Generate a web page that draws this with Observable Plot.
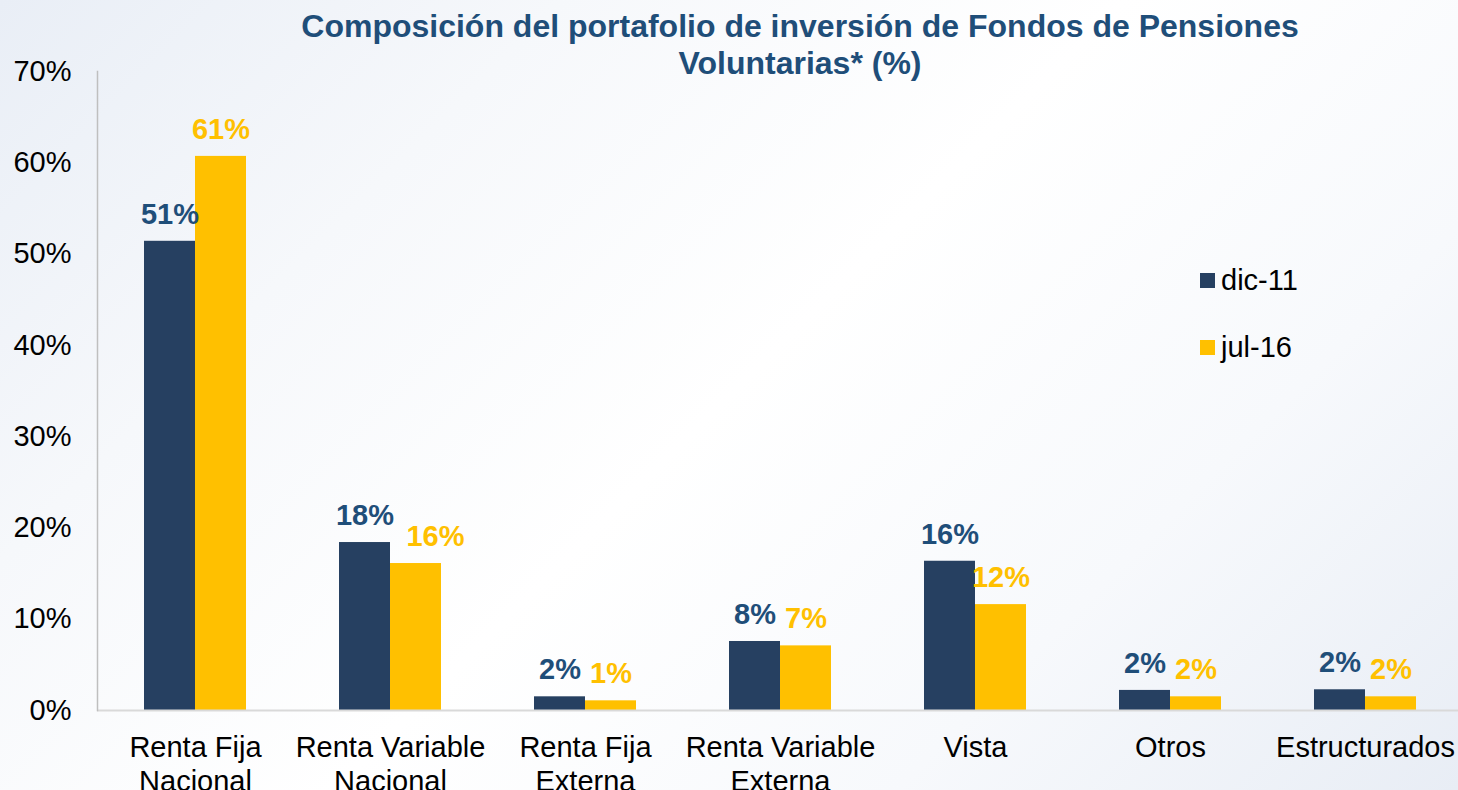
<!DOCTYPE html>
<html>
<head>
<meta charset="utf-8">
<script src="https://cdn.jsdelivr.net/npm/d3@7"></script>
<script src="https://cdn.jsdelivr.net/npm/@observablehq/plot@0.6"></script>
<style>
  html, body { margin: 0; padding: 0; overflow: hidden; }
  body { width: 1458px; height: 790px; font-family: Arial, "Liberation Sans", sans-serif; }
  #wrap { position: relative; width: 1458px; height: 790px;
    background: linear-gradient(135deg, #e9eef6 0%, #f6f8fb 25%, #ffffff 50%, #f7f9fc 75%, #e8edf5 100%); }
  #title { position: absolute; left: 250px; width: 1100px; top: 8px; text-align: center;
    font-weight: bold; font-size: 32px; line-height: 37px; color: #1f4e79; }
  .leg { position: absolute; left: 1200px; font-size: 29px; color: #000; line-height: 29px; }
  .leg span.sw { position: absolute; left: 0; width: 15px; height: 15px; }
  .leg span.tx { position: absolute; left: 21px; white-space: nowrap; }
  #chart svg { display: block; background: transparent; }
</style>
</head>
<body>
<div id="wrap">
  <div id="chart"></div>
  <div id="title">Composición del portafolio de inversión de Fondos de Pensiones<br>Voluntarias* (%)</div>
  <div id="legend"></div>
</div>
<script>
const categories = ["Renta Fija Nacional", "Renta Variable Nacional", "Renta Fija Externa", "Renta Variable Externa", "Vista", "Otros", "Estructurados"];
const tickLabels = ["Renta Fija\nNacional", "Renta Variable\nNacional", "Renta Fija\nExterna", "Renta Variable\nExterna", "Vista", "Otros", "Estructurados"];
const seriesNames = ["dic-11", "jul-16"];
const dic11 = [0.514, 0.184, 0.015, 0.0756, 0.1635, 0.022, 0.0227];
const jul16 = [0.607, 0.161, 0.0106, 0.0708, 0.116, 0.015, 0.015];
const yTicks = [0, 0.1, 0.2, 0.3, 0.4, 0.5, 0.6, 0.7];

const navy = "#264061", gold = "#FFC000", labelNavy = "#1f4e79";
const pct = d3.format(".0%");

const dicData = categories.map((c, i) => ({cat: c, v: dic11[i]}));
const julData = categories.map((c, i) => ({cat: c, v: jul16[i]}));
const labData = categories.map((c, i) => ({cat: c, label: tickLabels[i]}));
// the jul-16 label of "Renta Variable Nacional" is nudged right in the original
const nudged = "Renta Variable Nacional";

const fs = 29;
const plot = Plot.plot({
  width: 1458,
  height: 790,
  marginLeft: 97,
  marginRight: 0,
  marginTop: 71,
  marginBottom: 80,
  style: {fontFamily: 'Arial, "Liberation Sans", sans-serif', background: "transparent", overflow: "visible"},
  x: {domain: categories, range: [97, 1462], paddingInner: 0.477, paddingOuter: 0.2385, axis: null},
  y: {domain: [0, 0.7], axis: null},
  marks: [
    Plot.axisY({ticks: yTicks, tickFormat: pct, tickSize: 0, tickPadding: 26, fontSize: fs, color: "#000", label: null}),
    Plot.barY(dicData, {x: "cat", y: "v", fill: navy, insetRight: 51}),
    Plot.barY(julData, {x: "cat", y: "v", fill: gold, insetLeft: 51}),
    Plot.ruleY([0], {stroke: "#d9d9d9", strokeWidth: 2}),
    Plot.frame({anchor: "left", stroke: "#bfbfbf", strokeWidth: 1.5}),
    Plot.text(dicData, {x: "cat", y: "v", text: d => pct(d.v), dx: -25.5, dy: -17.5, lineAnchor: "bottom",
      fill: labelNavy, fontSize: fs, fontWeight: "bold"}),
    Plot.text(julData.filter(d => d.cat !== nudged), {x: "cat", y: "v", text: d => pct(d.v), dx: 25.5, dy: -17.5, lineAnchor: "bottom",
      fill: gold, fontSize: fs, fontWeight: "bold"}),
    Plot.text(julData.filter(d => d.cat === nudged), {x: "cat", y: "v", text: d => pct(d.v), dx: 45, dy: -17.5, lineAnchor: "bottom",
      fill: gold, fontSize: fs, fontWeight: "bold"}),
    Plot.text(labData, {x: "cat", text: "label", frameAnchor: "bottom", lineAnchor: "top", dy: 23,
      fontSize: fs, lineHeight: 1.15, fill: "#000"})
  ]
});
document.getElementById("chart").appendChild(plot);

const legend = document.getElementById("legend");
const legColors = [navy, gold];
const legTops = [266, 333];
seriesNames.forEach((name, i) => {
  const d = document.createElement("div");
  d.className = "leg";
  d.style.top = legTops[i] + "px";
  d.innerHTML = `<span class="sw" style="background:${legColors[i]};top:7px"></span><span class="tx">${name}</span>`;
  legend.appendChild(d);
});
</script>
</body>
</html>
